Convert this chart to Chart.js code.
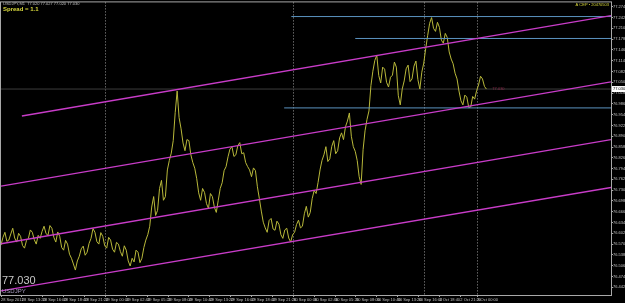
<!DOCTYPE html>
<html>
<head>
<meta charset="utf-8">
<script src="https://cdn.jsdelivr.net/npm/chart.js@4.4.0/dist/chart.umd.min.js"></script>
<style>
  html, body { margin: 0; padding: 0; background: #000; }
  #wrap { width: 625px; height: 303px; }
</style>
</head>
<body>
<div id="wrap"><canvas id="myChart" width="625" height="303"></canvas></div>
<script>
// USDJPY, bar index on x (one sample every 3 bars)
const symbol = 'USDJPY';
const headerText = 'USDJPY,M1  77.020 77.027 77.020 77.030';
const spreadText = 'Spread = 1.1';
const brandText = 'A CEP \u2022 20470503';
const currentPrice = 77.030;
const sampleStep = 3;

const prices = [
  76.567, 76.590, 76.605, 76.578, 76.582, 76.600, 76.617, 76.588, 76.576, 76.602, 76.593, 76.566, 76.558, 76.580, 76.587, 76.612, 76.605, 76.583, 76.570, 76.596,
  76.587, 76.608, 76.623, 76.601, 76.596, 76.625, 76.617, 76.590, 76.576, 76.606, 76.593, 76.560, 76.552, 76.581, 76.570, 76.540, 76.528, 76.511, 76.493, 76.520,
  76.534, 76.556, 76.564, 76.537, 76.546, 76.572, 76.587, 76.616, 76.605, 76.577, 76.570, 76.604, 76.593, 76.565, 76.558, 76.590, 76.582, 76.555, 76.546, 76.575,
  76.570, 76.548, 76.534, 76.565, 76.552, 76.520, 76.505, 76.528, 76.517, 76.552, 76.546, 76.515, 76.528, 76.560, 76.582, 76.598, 76.623, 76.680, 76.711, 76.655,
  76.670, 76.735, 76.759, 76.700, 76.711, 76.790, 76.818, 76.840, 76.877, 76.960, 77.024, 76.945, 76.912, 76.870, 76.847, 76.880, 76.877, 76.835, 76.812, 76.795,
  76.764, 76.722, 76.700, 76.735, 76.723, 76.690, 76.676, 76.720, 76.711, 76.680, 76.664, 76.700, 76.735, 76.752, 76.788, 76.800, 76.829, 76.852, 76.859, 76.830,
  76.835, 76.862, 76.871, 76.838, 76.841, 76.812, 76.800, 76.790, 76.770, 76.796, 76.788, 76.740, 76.705, 76.668, 76.635, 76.618, 76.605, 76.640, 76.646, 76.615,
  76.611, 76.638, 76.629, 76.598, 76.587, 76.612, 76.617, 76.588, 76.576, 76.598, 76.605, 76.628, 76.641, 76.618, 76.623, 76.660, 76.682, 76.650, 76.664, 76.705,
  76.729, 76.720, 76.753, 76.790, 76.818, 76.835, 76.859, 76.815, 76.823, 76.860, 76.877, 76.838, 76.847, 76.885, 76.900, 76.880, 76.918, 76.935, 76.959, 76.890,
  76.859, 76.845, 76.818, 76.770, 76.747, 76.850, 76.906, 76.940, 76.965, 77.040, 77.083, 77.115, 77.130, 77.070, 77.048, 77.095, 77.089, 77.050, 77.036, 77.065,
  77.071, 77.110, 77.095, 77.010, 76.983, 77.030, 77.054, 77.090, 77.101, 77.052, 77.060, 77.098, 77.113, 77.058, 77.030, 77.080, 77.107, 77.150, 77.189, 77.225,
  77.242, 77.210, 77.201, 77.228, 77.213, 77.175, 77.166, 77.195, 77.183, 77.140, 77.119, 77.105, 77.077, 77.060, 77.024, 76.995, 76.983, 77.012, 77.006, 76.975,
  76.977, 77.008, 77.000, 77.025, 77.042, 77.068, 77.060, 77.038, 77.030
];

// trend channel lines: [bar, price] start and end
const channelTop = [[32, 76.950], [935, 77.248]];
const channelUpper = [[0, 76.742], [935, 77.051]];
const channelLower = [[0, 76.571], [935, 76.880]];
const channelBottom = [[0, 76.431], [935, 76.738]];

// horizontal levels: [start bar, price]
const levels = [[445, 77.245], [543, 77.180], [434, 76.974]];

// day separators (bar index)
const separators = [160, 448, 648, 730];

const xTickBars = [0, 32, 64, 96, 128, 160, 192, 224, 256, 288, 320, 352, 384, 416, 448,
  480, 512, 544, 576, 608, 640, 672, 704, 730];
const xTickLabels = ['28 Sep 2011', '28 Sep 13:20', '28 Sep 16:00', '28 Sep 18:40', '28 Sep 21:20',
  '29 Sep 00:00', '29 Sep 02:40', '29 Sep 05:20', '29 Sep 08:00', '29 Sep 10:40', '29 Sep 13:20',
  '29 Sep 16:00', '29 Sep 18:40', '29 Sep 21:20', '30 Sep 00:00', '30 Sep 02:40', '30 Sep 05:20',
  '30 Sep 08:00', '30 Sep 10:40', '30 Sep 13:20', '30 Sep 16:00', '2 Oct 18:40', '2 Oct 21:20',
  '3 Oct 00:00'];

const yTicks = [77.274, 77.242, 77.210, 77.178, 77.146, 77.114, 77.082, 77.050, 77.018, 76.986,
  76.954, 76.922, 76.890, 76.858, 76.826, 76.794, 76.762, 76.730, 76.698, 76.666, 76.634,
  76.602, 76.570, 76.538, 76.506, 76.474, 76.442];

const xMin = 0, xMax = 935, yMin = 76.419, yMax = 77.287;

const priceData = prices.map((p, i) => ({ x: i * sampleStep, y: p }));
const seg = pts => pts.map(p => ({ x: p[0], y: p[1] }));

const magenta = '#c83cc8';
const steel = '#5b93c0';

const datasets = [];
[channelTop, channelUpper, channelLower, channelBottom].forEach(c => {
  datasets.push({ data: seg(c), borderColor: magenta, borderWidth: 1.3, pointRadius: 0, order: 0 });
});
levels.forEach(l => {
  datasets.push({ data: seg([[l[0], l[1]], [xMax, l[1]]]), borderColor: steel, borderWidth: 1, pointRadius: 0, order: 1 });
});
datasets.push({ data: seg([[xMin, currentPrice], [xMax, currentPrice]]), borderColor: '#3c3c3c', borderWidth: 1, pointRadius: 0, order: 3 });
datasets.push({ data: priceData, borderColor: '#b8b83a', borderWidth: 1, pointRadius: 0, tension: 0, order: 2 });

const mt4Decor = {
  id: 'mt4Decor',
  beforeDatasetsDraw(chart) {
    const { ctx, chartArea: a, scales: { x } } = chart;
    ctx.save();
    ctx.strokeStyle = '#9a9a9a';
    ctx.lineWidth = 1;
    ctx.setLineDash([1, 2]);
    separators.forEach(b => {
      const px = Math.round(x.getPixelForValue(b)) + 0.5;
      ctx.beginPath();
      ctx.moveTo(px, a.top);
      ctx.lineTo(px, a.bottom);
      ctx.stroke();
    });
    ctx.restore();
  },
  afterDraw(chart) {
    const { ctx, chartArea: a, scales: { x, y } } = chart;
    ctx.save();
    // frame
    ctx.strokeStyle = '#a8a8a8';
    ctx.lineWidth = 1;
    ctx.strokeRect(a.left - 0.5, a.top - 0.5, a.right - a.left + 1, a.bottom - a.top + 1);
    // texts
    ctx.textBaseline = 'middle';
    ctx.fillStyle = '#bdbdbd';
    ctx.font = '4px "Liberation Sans", Arial, sans-serif';
    ctx.fillText(headerText, 3, 4);
    ctx.fillStyle = '#d8d83c';
    ctx.font = 'bold 6px "Liberation Sans", Arial, sans-serif';
    ctx.fillText(spreadText, 3, 9);
    ctx.font = '4px "Liberation Sans", Arial, sans-serif';
    ctx.textAlign = 'right';
    ctx.fillText(brandText, 609, 5);
    ctx.textAlign = 'left';
    ctx.fillStyle = '#c8c8c8';
    ctx.font = '11px "Liberation Sans", Arial, sans-serif';
    ctx.fillText('77.030', 2, 281);
    ctx.fillStyle = '#a89cc0';
    ctx.font = '6px "Liberation Sans", Arial, sans-serif';
    ctx.fillText(symbol, 2, 291);
    // bid label near last bar and price box on axis
    const py = y.getPixelForValue(currentPrice);
    ctx.fillStyle = '#8a2a4a';
    ctx.font = '4px "Liberation Sans", Arial, sans-serif';
    ctx.fillText('77.030', x.getPixelForValue(prices.length * sampleStep) + 4, py);
    ctx.fillStyle = '#ffffff';
    ctx.fillRect(a.right + 1, py - 3, 13, 6);
    ctx.fillStyle = '#000000';
    ctx.fillText('77.030', a.right + 2, py);
    ctx.restore();
  }
};

const ctx = document.getElementById('myChart').getContext('2d');
const myChart = new Chart(ctx, {
  type: 'line',
  data: { datasets },
  options: {
    responsive: false,
    animation: false,
    devicePixelRatio: 1,
    layout: { padding: { top: 1, left: 1, right: 0, bottom: 0 } },
    plugins: { legend: { display: false }, tooltip: { enabled: false } },
    scales: {
      x: {
        type: 'linear',
        position: 'bottom',
        min: xMin,
        max: xMax,
        afterBuildTicks: s => { s.ticks = xTickBars.map(v => ({ value: v })); },
        afterFit: s => { s.height = 8; },
        border: { display: false },
        grid: { drawOnChartArea: false, color: '#a8a8a8', tickLength: 2 },
        ticks: {
          autoSkip: false,
          maxRotation: 0,
          align: 'start',
          padding: 0,
          color: '#c0c0c0',
          font: { size: 4, family: '"Liberation Sans", Arial, sans-serif' },
          callback: (v, i) => xTickLabels[i]
        }
      },
      y: {
        type: 'linear',
        position: 'right',
        min: yMin,
        max: yMax,
        afterBuildTicks: s => { s.ticks = yTicks.map(v => ({ value: v })); },
        afterFit: s => { s.width = 14; },
        border: { display: false },
        grid: { drawOnChartArea: false, color: '#a8a8a8', tickLength: 2 },
        ticks: {
          padding: 0,
          color: '#c0c0c0',
          font: { size: 4, family: '"Liberation Sans", Arial, sans-serif' },
          callback: v => v.toFixed(3)
        }
      }
    }
  },
  plugins: [mt4Decor]
});
</script>
</body>
</html>
